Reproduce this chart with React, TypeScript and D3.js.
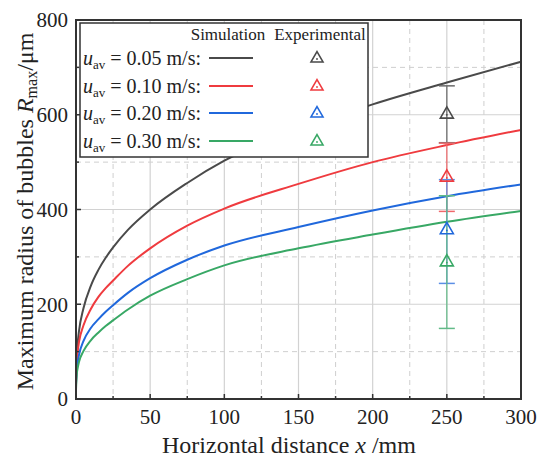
import React from "react";
import * as d3 from "d3";

const xs = [0, 0.5, 1, 2, 5, 10, 15, 20, 25, 35, 50, 75, 100, 150, 200, 250, 300];
const sim005 = [40, 92, 114, 143, 191, 239, 272, 298, 320, 357, 400, 456, 503, 568, 622, 668, 712];
const sim010 = [35, 78, 96, 120, 155, 190, 215, 234, 250, 281, 318, 366, 402, 454, 500, 536, 568];
const sim020 = [30, 62, 75, 93, 122, 150, 168, 184, 198, 224, 255, 294, 324, 363, 398, 428, 453];
const sim030 = [20, 52, 63, 78, 101, 124, 140, 154, 166, 189, 218, 253, 282, 318, 347, 374, 397];

const labels = ["0.05", "0.10", "0.20", "0.30"];
const colors = ["#4a4a4a", "#ef3b3f", "#2068dc", "#38a865"];
const errColors = ["#6a6a6a", "#f0686b", "#5b8fe6", "#62bb88"];
const expX = 250;
const expMean = [602, 469, 358, 290];
const expLow = [541, 396, 244, 149];
const expHigh = [661, 540, 463, 429];

const xTicks = [0, 50, 100, 150, 200, 250, 300];
const yTicks = [0, 200, 400, 600, 800];

const W = 550, H = 464;
const M = { left: 68, right: 513, top: 12, bottom: 391 };

export default function App() {
  const x = d3.scaleLinear().domain([0, 300]).range([M.left, M.right]);
  const y = d3.scaleLinear().domain([0, 800]).range([M.bottom, M.top]);
  const series = [sim005, sim010, sim020, sim030];
  const line = d3
    .line<number>()
    .x((_, i) => x(xs[i]))
    .y((d) => y(d))
    .curve(d3.curveMonotoneX);

  const minorX = d3.range(25, 300, 50);
  const minorY = d3.range(100, 800, 200);
  const fs = { fontFamily: '"Liberation Serif"' };

  const tri = (cx: number, cy: number, s: number) => {
    const h = s * 0.87;
    return `M${cx},${cy - h * 0.62} L${cx + s / 2},${cy + h * 0.38} L${cx - s / 2},${cy + h * 0.38} Z`;
  };

  const lx = (v: number) => v - 8;
  const legRows = [50, 78, 105, 133];

  return (
    <svg width={W - 8} height={H - 8}>
      {/* grid */}
      {minorX.map((v) => (
        <line key={"mx" + v} x1={x(v)} x2={x(v)} y1={M.top} y2={M.bottom} stroke="#cfcfcf" strokeDasharray="5,4" strokeWidth={1} />
      ))}
      {minorY.map((v) => (
        <line key={"my" + v} y1={y(v)} y2={y(v)} x1={M.left} x2={M.right} stroke="#cfcfcf" strokeDasharray="5,4" strokeWidth={1} />
      ))}
      {xTicks.slice(1, -1).map((v) => (
        <line key={"gx" + v} x1={x(v)} x2={x(v)} y1={M.top} y2={M.bottom} stroke="#d2d2d2" strokeWidth={1.2} />
      ))}
      {yTicks.slice(1, -1).map((v) => (
        <line key={"gy" + v} y1={y(v)} y2={y(v)} x1={M.left} x2={M.right} stroke="#d2d2d2" strokeWidth={1.2} />
      ))}

      {/* curves */}
      {series.map((s, i) => (
        <path key={"c" + i} d={line(s) || ""} fill="none" stroke={colors[i]} strokeWidth={2} />
      ))}

      {/* error bars */}
      {expMean.map((m, i) => (
        <g key={"e" + i}>
          <line x1={x(expX)} x2={x(expX)} y1={y(expLow[i])} y2={y(expHigh[i])} stroke={errColors[i]} strokeWidth={1.2} />
          <line x1={x(expX) - 8} x2={x(expX) + 8} y1={y(expLow[i])} y2={y(expLow[i])} stroke={errColors[i]} strokeWidth={1.5} />
          <line x1={x(expX) - 8} x2={x(expX) + 8} y1={y(expHigh[i])} y2={y(expHigh[i])} stroke={errColors[i]} strokeWidth={1.5} />
        </g>
      ))}
      {expMean.map((m, i) => (
        <g key={"t" + i}>
          <path d={tri(x(expX), y(m), 13)} fill="none" stroke={colors[i]} strokeWidth={1.6} />
          <circle cx={x(expX)} cy={y(m) + 1} r={0.9} fill={colors[i]} />
        </g>
      ))}

      {/* frame */}
      <rect x={M.left} y={M.top} width={M.right - M.left} height={M.bottom - M.top} fill="none" stroke="#333" strokeWidth={2} />

      {/* ticks */}
      {d3.range(0, 301, 25).map((v) => (
        <line key={"tx" + v} x1={x(v)} x2={x(v)} y1={M.bottom} y2={M.bottom - (v % 50 === 0 ? 5 : 3)} stroke="#333" strokeWidth={1.5} />
      ))}
      {d3.range(0, 801, 100).map((v) => (
        <line key={"ty" + v} y1={y(v)} y2={y(v)} x1={M.left} x2={M.left + (v % 200 === 0 ? 5 : 3)} stroke="#333" strokeWidth={1.5} />
      ))}

      {/* tick labels */}
      {xTicks.map((v) => (
        <text key={"lx" + v} x={x(v)} y={416} textAnchor="middle" fontSize={21} fill="#222" style={fs}>
          {v}
        </text>
      ))}
      {yTicks.map((v) => (
        <text key={"ly" + v} x={lx(68)} y={y(v)} dy="0.35em" textAnchor="end" fontSize={21} fill="#222" style={fs}>
          {v}
        </text>
      ))}

      {/* axis titles */}
      <text x={lx(289)} y={445} textAnchor="middle" fontSize={24} fill="#222" style={fs}>
        Horizontal distance <tspan fontStyle="italic">x</tspan> /mm
      </text>
      <text transform={`translate(${lx(33)},${(M.top + M.bottom) / 2 + 2}) rotate(-90)`} textAnchor="middle" fontSize={24} fill="#222" style={fs}>
        Maximum radius of bubbles <tspan fontStyle="italic">R</tspan>
        <tspan fontSize={16} dy={4}>max</tspan>
        <tspan dy={-4}>/μm</tspan>
      </text>

      {/* legend */}
      <rect x={lx(80)} y={15} width={288} height={134} fill="#fff" stroke="#333" strokeWidth={1.5} />
      <text x={lx(228)} y={32} textAnchor="middle" fontSize={17} fill="#222" style={fs}>Simulation</text>
      <text x={lx(320)} y={32} textAnchor="middle" fontSize={17} fill="#222" style={fs}>Experimental</text>
      {labels.map((l, i) => (
        <g key={"lg" + i}>
          <text x={lx(83)} y={legRows[i] + 7} fontSize={20} fill="#222" style={fs}>
            <tspan fontStyle="italic">u</tspan>
            <tspan fontSize={13} dy={4}>av</tspan>
            <tspan dy={-4}> = {l} m/s:</tspan>
          </text>
          <line x1={lx(209)} x2={lx(253)} y1={legRows[i]} y2={legRows[i]} stroke={colors[i]} strokeWidth={2} />
          <path d={tri(lx(317), legRows[i], 12)} fill="none" stroke={colors[i]} strokeWidth={1.6} />
          <circle cx={lx(317)} cy={legRows[i] + 1} r={0.9} fill={colors[i]} />
        </g>
      ))}
    </svg>
  );
}
